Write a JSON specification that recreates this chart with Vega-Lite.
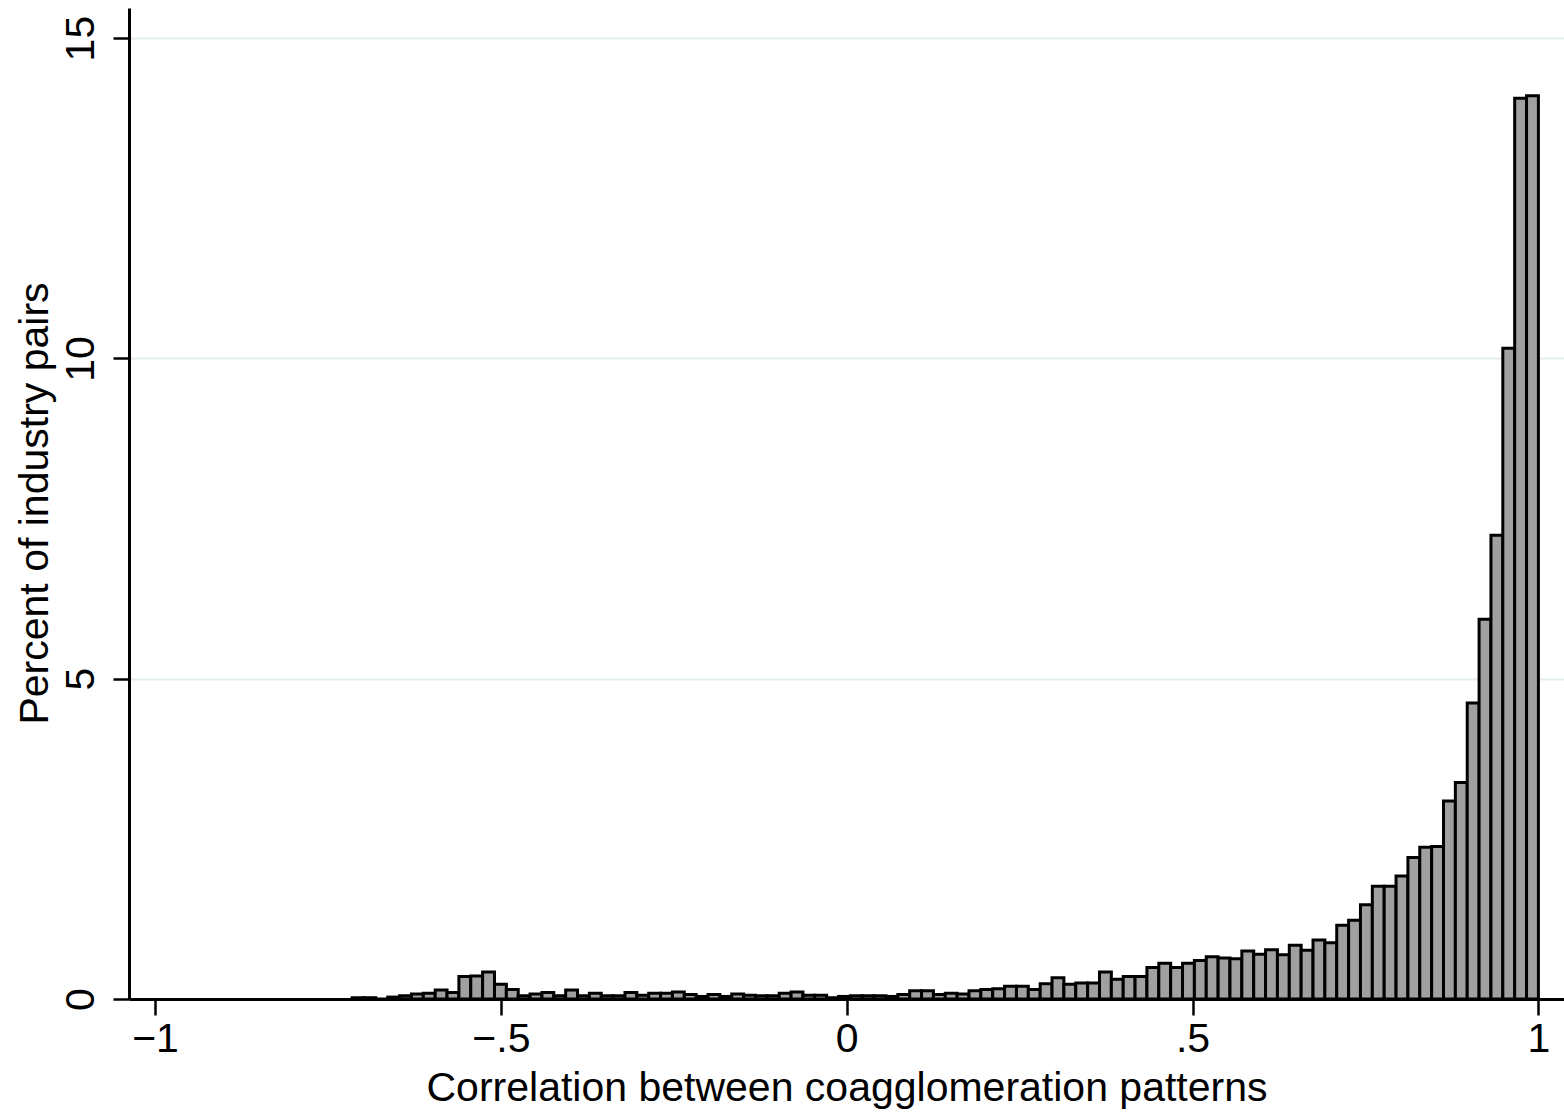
{
  "$schema": "https://vega.github.io/schema/vega-lite/v6.json",
  "width": 1435,
  "height": 991,
  "autosize": {"type": "none"},
  "padding": {"left": 129, "top": 8, "right": 0, "bottom": 120},
  "background": "white",
  "config": {"view": {"stroke": null}, "font": "Liberation Sans"},
  "data": {"values": [
    {"start": -0.7150, "end": -0.69785, "pct": 0.02},
    {"start": -0.69785, "end": -0.6807, "pct": 0.02},
    {"start": -0.6807, "end": -0.66355, "pct": 0.0},
    {"start": -0.66355, "end": -0.6464, "pct": 0.03},
    {"start": -0.6464, "end": -0.62925, "pct": 0.05},
    {"start": -0.62925, "end": -0.6121, "pct": 0.08},
    {"start": -0.6121, "end": -0.59495, "pct": 0.09},
    {"start": -0.59495, "end": -0.5778, "pct": 0.14},
    {"start": -0.5778, "end": -0.56065, "pct": 0.10},
    {"start": -0.56065, "end": -0.5435, "pct": 0.35},
    {"start": -0.5435, "end": -0.52635, "pct": 0.36},
    {"start": -0.52635, "end": -0.5092, "pct": 0.42},
    {"start": -0.5092, "end": -0.49205, "pct": 0.23},
    {"start": -0.49205, "end": -0.4749, "pct": 0.15},
    {"start": -0.4749, "end": -0.45775, "pct": 0.05},
    {"start": -0.45775, "end": -0.4406, "pct": 0.08},
    {"start": -0.4406, "end": -0.42345, "pct": 0.10},
    {"start": -0.42345, "end": -0.4063, "pct": 0.05},
    {"start": -0.4063, "end": -0.38915, "pct": 0.14},
    {"start": -0.38915, "end": -0.372, "pct": 0.05},
    {"start": -0.372, "end": -0.35485, "pct": 0.09},
    {"start": -0.35485, "end": -0.3377, "pct": 0.05},
    {"start": -0.3377, "end": -0.32055, "pct": 0.05},
    {"start": -0.32055, "end": -0.3034, "pct": 0.10},
    {"start": -0.3034, "end": -0.28625, "pct": 0.06},
    {"start": -0.28625, "end": -0.2691, "pct": 0.09},
    {"start": -0.2691, "end": -0.25195, "pct": 0.09},
    {"start": -0.25195, "end": -0.2348, "pct": 0.11},
    {"start": -0.2348, "end": -0.21765, "pct": 0.07},
    {"start": -0.21765, "end": -0.2005, "pct": 0.04},
    {"start": -0.2005, "end": -0.18335, "pct": 0.07},
    {"start": -0.18335, "end": -0.1662, "pct": 0.04},
    {"start": -0.1662, "end": -0.14905, "pct": 0.08},
    {"start": -0.14905, "end": -0.1319, "pct": 0.06},
    {"start": -0.1319, "end": -0.11475, "pct": 0.05},
    {"start": -0.11475, "end": -0.0976, "pct": 0.05},
    {"start": -0.0976, "end": -0.08045, "pct": 0.09},
    {"start": -0.08045, "end": -0.0633, "pct": 0.11},
    {"start": -0.0633, "end": -0.04615, "pct": 0.06},
    {"start": -0.04615, "end": -0.029, "pct": 0.06},
    {"start": -0.029, "end": -0.01185, "pct": 0.02},
    {"start": -0.01185, "end": 0.0053, "pct": 0.04},
    {"start": 0.0053, "end": 0.02245, "pct": 0.05},
    {"start": 0.02245, "end": 0.0396, "pct": 0.05},
    {"start": 0.0396, "end": 0.05675, "pct": 0.05},
    {"start": 0.05675, "end": 0.0739, "pct": 0.04},
    {"start": 0.0739, "end": 0.09105, "pct": 0.07},
    {"start": 0.09105, "end": 0.1082, "pct": 0.13},
    {"start": 0.1082, "end": 0.12535, "pct": 0.13},
    {"start": 0.12535, "end": 0.1425, "pct": 0.07},
    {"start": 0.1425, "end": 0.15965, "pct": 0.09},
    {"start": 0.15965, "end": 0.1768, "pct": 0.08},
    {"start": 0.1768, "end": 0.19395, "pct": 0.13},
    {"start": 0.19395, "end": 0.2111, "pct": 0.15},
    {"start": 0.2111, "end": 0.22825, "pct": 0.16},
    {"start": 0.22825, "end": 0.2454, "pct": 0.20},
    {"start": 0.2454, "end": 0.26255, "pct": 0.20},
    {"start": 0.26255, "end": 0.2797, "pct": 0.15},
    {"start": 0.2797, "end": 0.29685, "pct": 0.24},
    {"start": 0.29685, "end": 0.314, "pct": 0.33},
    {"start": 0.314, "end": 0.33115, "pct": 0.23},
    {"start": 0.33115, "end": 0.3483, "pct": 0.25},
    {"start": 0.3483, "end": 0.36545, "pct": 0.25},
    {"start": 0.36545, "end": 0.3826, "pct": 0.42},
    {"start": 0.3826, "end": 0.39975, "pct": 0.31},
    {"start": 0.39975, "end": 0.4169, "pct": 0.35},
    {"start": 0.4169, "end": 0.43405, "pct": 0.35},
    {"start": 0.43405, "end": 0.4512, "pct": 0.49},
    {"start": 0.4512, "end": 0.46835, "pct": 0.56},
    {"start": 0.46835, "end": 0.4855, "pct": 0.49},
    {"start": 0.4855, "end": 0.50265, "pct": 0.56},
    {"start": 0.50265, "end": 0.5198, "pct": 0.60},
    {"start": 0.5198, "end": 0.53695, "pct": 0.66},
    {"start": 0.53695, "end": 0.5541, "pct": 0.64},
    {"start": 0.5541, "end": 0.57125, "pct": 0.63},
    {"start": 0.57125, "end": 0.5884, "pct": 0.75},
    {"start": 0.5884, "end": 0.60555, "pct": 0.70},
    {"start": 0.60555, "end": 0.6227, "pct": 0.77},
    {"start": 0.6227, "end": 0.63985, "pct": 0.69},
    {"start": 0.63985, "end": 0.657, "pct": 0.84},
    {"start": 0.657, "end": 0.67415, "pct": 0.76},
    {"start": 0.67415, "end": 0.6913, "pct": 0.92},
    {"start": 0.6913, "end": 0.70845, "pct": 0.88},
    {"start": 0.70845, "end": 0.7256, "pct": 1.15},
    {"start": 0.7256, "end": 0.74275, "pct": 1.23},
    {"start": 0.74275, "end": 0.7599, "pct": 1.47},
    {"start": 0.7599, "end": 0.77705, "pct": 1.76},
    {"start": 0.77705, "end": 0.7942, "pct": 1.76},
    {"start": 0.7942, "end": 0.81135, "pct": 1.92},
    {"start": 0.81135, "end": 0.8285, "pct": 2.21},
    {"start": 0.8285, "end": 0.84565, "pct": 2.37},
    {"start": 0.84565, "end": 0.8628, "pct": 2.38},
    {"start": 0.8628, "end": 0.87995, "pct": 3.09},
    {"start": 0.87995, "end": 0.8971, "pct": 3.38},
    {"start": 0.8971, "end": 0.91425, "pct": 4.62},
    {"start": 0.91425, "end": 0.9314, "pct": 5.93},
    {"start": 0.9314, "end": 0.94855, "pct": 7.24},
    {"start": 0.94855, "end": 0.9657, "pct": 10.16},
    {"start": 0.9657, "end": 0.98285, "pct": 14.06},
    {"start": 0.98285, "end": 1.0, "pct": 14.10}
  ]},
  "mark": {"type": "bar", "fill": "#a0a0a0", "stroke": "black", "strokeWidth": 3, "strokeJoin": "miter", "orient": "vertical"},
  "encoding": {
    "x": {
      "field": "start",
      "type": "quantitative",
      "scale": {"domain": [-1.0376, 1.037], "nice": false, "zero": false, "padding": 0},
      "axis": {
        "values": [-1, -0.5, 0, 0.5, 1],
        "grid": false,
        "domainColor": "black",
        "domainWidth": 3,
        "tickColor": "black",
        "tickSize": 16,
        "tickWidth": 2.5,
        "labelExpr": "datum.value == 0 ? '0' : replace(format(datum.value, '~g'), '0.', '.')",
        "labelFontSize": 41,
        "labelColor": "black",
        "labelPadding": 4,
        "labelFlush": false,
        "labelOverlap": false,
        "title": "Correlation between coagglomeration patterns",
        "titleFontSize": 41,
        "titleFontWeight": "normal",
        "titleColor": "black",
        "titleBaseline": "alphabetic",
        "titleY": 101
      }
    },
    "x2": {"field": "end"},
    "y": {
      "field": "pct",
      "type": "quantitative",
      "scale": {"domain": [0, 15.47], "nice": false},
      "axis": {
        "values": [0, 5, 10, 15],
        "grid": true,
        "gridColor": "#e4edef",
        "gridWidth": 2,
        "domainColor": "black",
        "domainWidth": 3,
        "tickColor": "black",
        "tickSize": 16,
        "tickWidth": 2.5,
        "labelAngle": -90,
        "labelAlign": "center",
        "labelBaseline": "alphabetic",
        "labelPadding": 20,
        "labelFontSize": 41,
        "labelColor": "black",
        "labelFlush": false,
        "labelOverlap": false,
        "title": "Percent of industry pairs",
        "titleFontSize": 41,
        "titleFontWeight": "normal",
        "titleColor": "black",
        "titleAngle": -90,
        "titleAlign": "center",
        "titleBaseline": "alphabetic",
        "titleX": -82,
        "titleY": 495
      }
    },
    "y2": {"datum": 0}
  }
}
